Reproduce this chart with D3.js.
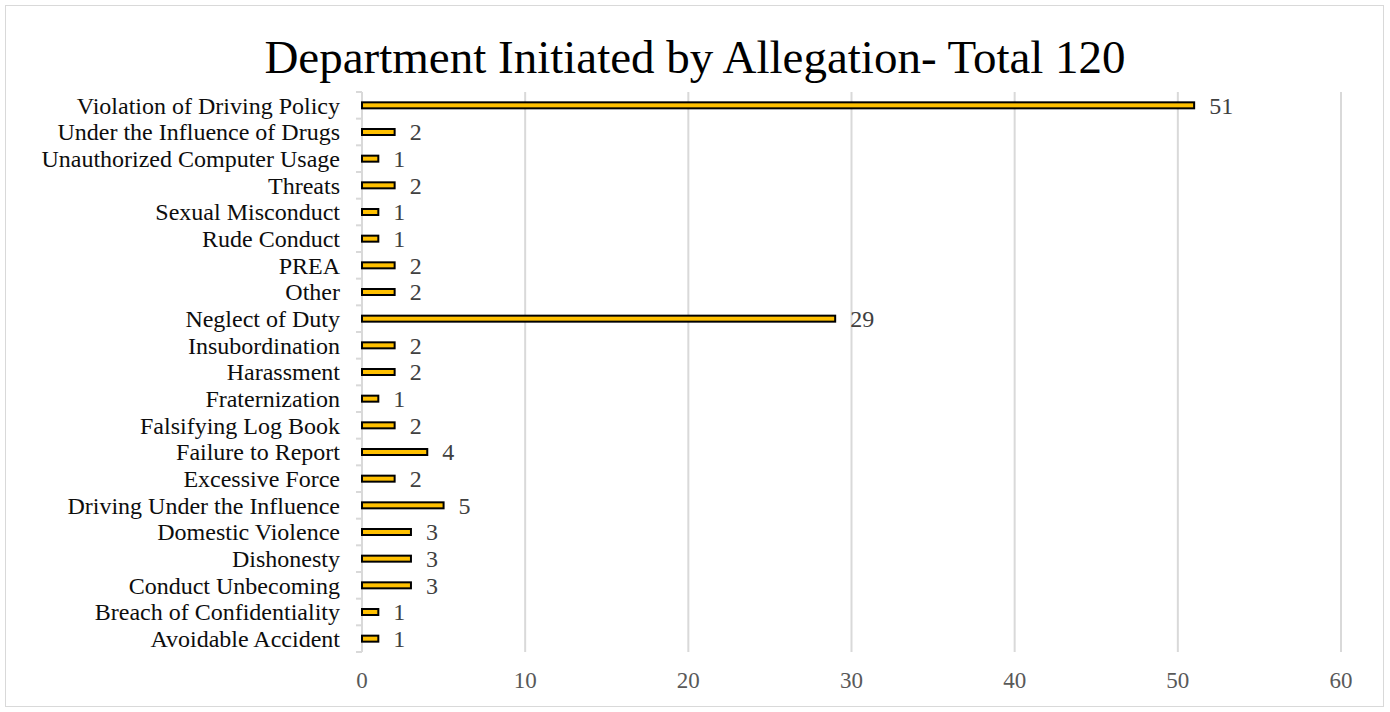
<!DOCTYPE html>
<html><head><meta charset="utf-8">
<script src="https://cdn.jsdelivr.net/npm/d3@7"></script>
<style>body{margin:0;background:#fff;} svg{display:block;}</style>
</head><body>
<svg id="c" width="1390" height="712"></svg>
<script>
const categories = ["Violation of Driving Policy","Under the Influence of Drugs","Unauthorized Computer Usage","Threats","Sexual Misconduct","Rude Conduct","PREA","Other","Neglect of Duty","Insubordination","Harassment","Fraternization","Falsifying Log Book","Failure to Report","Excessive Force","Driving Under the Influence","Domestic Violence","Dishonesty","Conduct Unbecoming","Breach of Confidentiality","Avoidable Accident"];
const values = [51,2,1,2,1,1,2,2,29,2,2,1,2,4,2,5,3,3,3,1,1];
const xTicks = [0,10,20,30,40,50,60];
const title = "Department Initiated by Allegation- Total 120";

(function(){
const svg = d3.select("#c");
const font = "'Liberation Serif','Times New Roman',serif";
svg.append("rect").attr("x",5.5).attr("y",5.5).attr("width",1378).attr("height",701)
  .attr("fill","#fff").attr("stroke","#d9d9d9").attr("stroke-width",1);

const pL=362, pR=1341, pT=92, pB=652;
const x = d3.scaleLinear().domain([0,60]).range([pL,pR]);
const y = d3.scaleBand().domain(categories).range([pT,pB]);

svg.append("g").selectAll("line").data(xTicks.filter(d=>d>0)).join("line")
  .attr("x1",d=>x(d)).attr("x2",d=>x(d)).attr("y1",pT).attr("y2",pB)
  .attr("stroke","#d9d9d9").attr("stroke-width",2);

svg.append("line").attr("x1",pL).attr("x2",pL).attr("y1",pT).attr("y2",pB).attr("stroke","#d9d9d9").attr("stroke-width",2);
const bounds = categories.map(c=>y(c)).concat([pB]);
svg.append("g").selectAll("line").data(bounds).join("line")
  .attr("x1",pL-6).attr("x2",pL).attr("y1",d=>d).attr("y2",d=>d)
  .attr("stroke","#d9d9d9").attr("stroke-width",2);

svg.append("g").selectAll("text").data(categories).join("text")
  .attr("x",pL-22).attr("y",c=>y(c)+y.bandwidth()/2).attr("dy","0.35em")
  .attr("text-anchor","end").attr("font-family",font).attr("font-size",24).attr("fill","#0d0d0d")
  .text(c=>c);

const bh = 6;
svg.append("g").selectAll("rect").data(values).join("rect")
  .attr("x",x(0)).attr("y",(d,i)=>y(categories[i])+y.bandwidth()/2-bh/2)
  .attr("width",d=>x(d)-x(0)).attr("height",bh)
  .attr("fill","#ffc000").attr("stroke","#000").attr("stroke-width",2);

svg.append("g").selectAll("text").data(values).join("text")
  .attr("x",d=>x(d)+15).attr("y",(d,i)=>y(categories[i])+y.bandwidth()/2).attr("dy","0.35em")
  .attr("font-family",font).attr("font-size",24).attr("fill","#404040")
  .text(d=>d);

svg.append("g").selectAll("text").data(xTicks).join("text")
  .attr("x",d=>x(d)).attr("y",688).attr("text-anchor","middle")
  .attr("font-family",font).attr("font-size",23).attr("fill","#595959").text(d=>d);

svg.append("text").attr("x",695).attr("y",73).attr("text-anchor","middle")
  .attr("font-family",font).attr("font-size",47).attr("fill","#000").text(title);
})();
</script>
</body></html>
